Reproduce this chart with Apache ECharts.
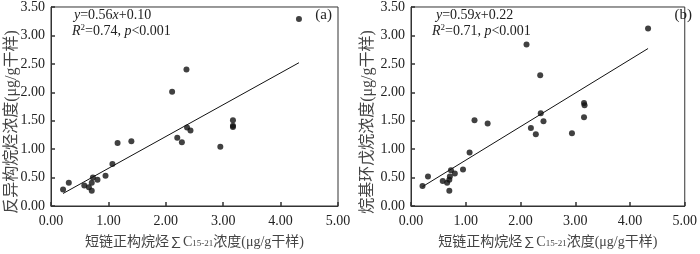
<!DOCTYPE html>
<html><head><meta charset="utf-8">
<script src="https://cdn.jsdelivr.net/npm/echarts@6/dist/echarts.min.js"></script>
<style>html,body{margin:0;padding:0;background:#fff}#c{width:700px;height:254px}</style>
</head><body><div id="c"></div>
<script>
// Panel (a): 反异构烷烃 vs 短链正构烷烃
const xA = [0.21,0.31,0.58,0.66,0.71,0.71,0.73,0.81,0.95,1.07,1.16,1.40,2.11,2.20,2.28,2.36,2.37,2.43,2.95,3.17,3.17,3.17,4.32];
const yA = [0.29,0.41,0.36,0.33,0.27,0.41,0.50,0.46,0.53,0.74,1.11,1.14,2.01,1.20,1.12,2.40,1.38,1.33,1.04,1.51,1.41,1.39,3.29];
// Panel (b): 烷基环戊烷 vs 短链正构烷烃
const xB = [0.21,0.31,0.58,0.66,0.70,0.70,0.71,0.73,0.80,0.95,1.07,1.16,1.40,2.11,2.19,2.28,2.36,2.37,2.42,2.94,3.16,3.17,3.16,4.33];
const yB = [0.35,0.52,0.44,0.41,0.27,0.46,0.52,0.63,0.57,0.64,0.94,1.51,1.45,2.84,1.37,1.26,2.30,1.63,1.49,1.28,1.81,1.77,1.56,3.12];
// regression line end points
const fitA = [[0.21,0.22],[4.32,2.52]];
const fitB = [[0.21,0.34],[4.33,2.77]];
const xTicks = {min:0,max:5,interval:1};
const yTicks = {min:0,max:3.5,interval:0.5};
const eqA = ['0.56','0.10','0.74','0.001','(a)'];
const eqB = ['0.59','0.22','0.71','0.001','(b)'];
const yNameA = '反异构烷烃浓度(μg/g干样)';
const yNameB = '烷基环戊烷浓度(μg/g干样)';

const FF = '"Liberation Serif","Noto Sans CJK SC",serif';
const AX = '#333';
const chart = echarts.init(document.getElementById('c'));
function xAxis(g){
  return {gridIndex:g,type:'value',min:xTicks.min,max:xTicks.max,interval:xTicks.interval,
    axisLine:{lineStyle:{color:AX,width:1}},axisTick:{inside:true,length:4,lineStyle:{color:AX,width:1.5}},
    splitLine:{show:false},
    axisLabel:{color:'#222',fontFamily:FF,fontSize:14,margin:8,formatter:v=>v.toFixed(2)},
    name:'{a|短链正构烷烃}{g|∑}{a|C}{s|15-21}{a|浓度(μg/g干样)}',nameLocation:'middle',nameGap:29,
    nameTextStyle:{rich:{
      a:{fontFamily:FF,fontSize:14,color:'#444'},
      g:{fontFamily:'"Noto Sans CJK SC"',fontSize:14,color:'#444'},
      s:{fontFamily:FF,fontSize:9,color:'#444',padding:[3,0,0,0]}}}};
}
function yAxis(g){
  return {gridIndex:g,type:'value',min:yTicks.min,max:yTicks.max,interval:yTicks.interval,
    axisLine:{show:true,lineStyle:{color:AX,width:1}},axisTick:{show:true,inside:true,length:4,lineStyle:{color:AX,width:1.5}},
    splitLine:{show:false},
    axisLabel:{color:'#222',fontFamily:FF,fontSize:14,margin:6,formatter:v=>v.toFixed(2)}};
}
function pts(xs,ys){return xs.map((x,i)=>[x,ys[i]]);}
const RICH = {
  i:{fontFamily:FF,fontSize:14,fontStyle:'italic',fill:'#222'},
  n:{fontFamily:FF,fontSize:14,fill:'#222'},
  sup:{fontFamily:FF,fontSize:9,fill:'#222',padding:[0,0,6,0]}
};
function eqGraphic(eq,x1,x2,xl){
  return [
    {type:'text',x:x1,y:15,style:{rich:RICH,verticalAlign:'middle',
      text:'{i|y}{n|='+eq[0]+'}{i|x}{n|+'+eq[1]+'}'}},
    {type:'text',x:x2,y:31,style:{rich:RICH,verticalAlign:'middle',
      text:'{i|R}{sup|2}{n|='+eq[2]+', }{i|p}{n|<'+eq[3]+'}'}},
    {type:'text',x:xl,y:15,z:100,style:{text:eq[4],fontFamily:FF,fontSize:15,fill:'#222',align:'right',verticalAlign:'middle'}}
  ];
}
function yTitle(t,x){
  return {type:'text',x:x,y:122,rotation:Math.PI/2,style:{text:t,fontFamily:FF,fontSize:16,fill:'#444',align:'center',verticalAlign:'middle'}};
}
chart.setOption({
  animation:false,
  grid:[{left:51,top:1,width:287,height:211,show:true,borderColor:AX,borderWidth:1},
        {left:411,top:1,width:286,height:211,show:true,borderColor:AX,borderWidth:1}],
  xAxis:[xAxis(0),xAxis(1)],
  yAxis:[yAxis(0),yAxis(1)],
  series:[
    {type:'scatter',xAxisIndex:0,yAxisIndex:0,data:pts(xA,yA),symbolSize:6,itemStyle:{color:'#111'},z:3},
    {type:'line',xAxisIndex:0,yAxisIndex:0,data:fitA,showSymbol:false,lineStyle:{color:'#111',width:1}},
    {type:'scatter',xAxisIndex:1,yAxisIndex:1,data:pts(xB,yB),symbolSize:6,itemStyle:{color:'#111'},z:3},
    {type:'line',xAxisIndex:1,yAxisIndex:1,data:fitB,showSymbol:false,lineStyle:{color:'#111',width:1}}
  ],
  graphic:[].concat(eqGraphic(eqA,74,72,332),eqGraphic(eqB,436,432,692),[yTitle(yNameA,12),yTitle(yNameB,368)])
});
</script></body></html>
